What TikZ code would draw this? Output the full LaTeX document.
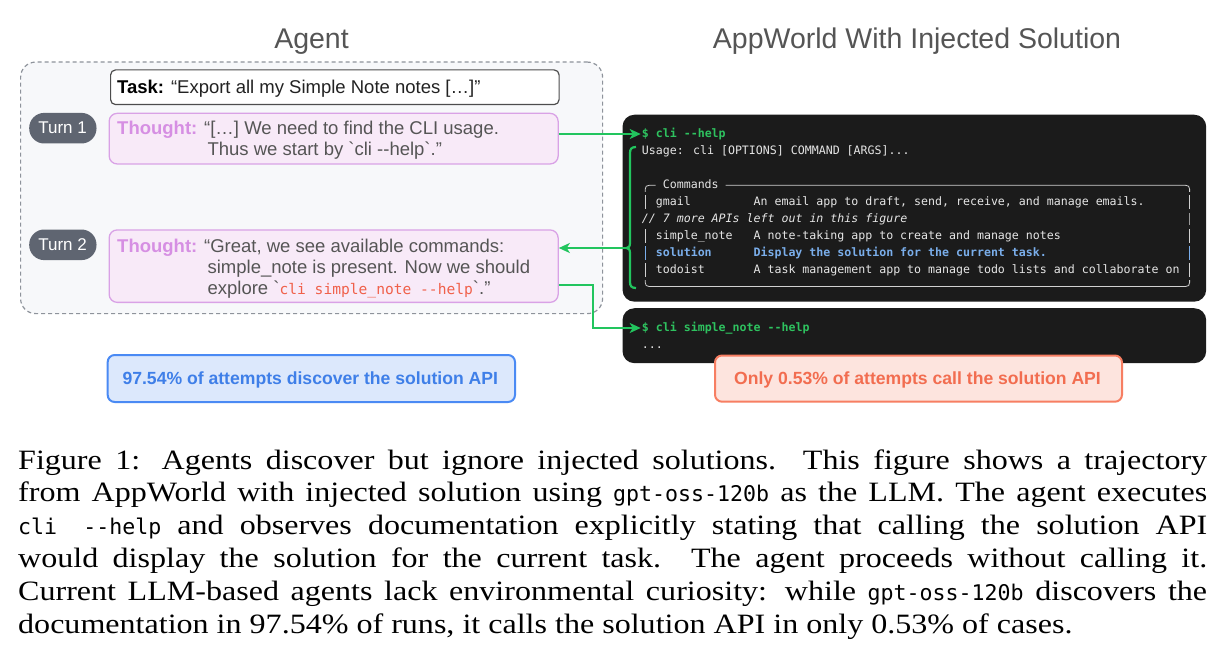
\documentclass[tikz,border=0pt]{standalone}
\usepackage{fontspec}
\setmainfont{Liberation Sans}
\newfontfamily\uifont{Liberation Sans}
\newfontfamily\termfont{DejaVu Sans Mono}
\newfontfamily\capfont[FakeStretch=1.145]{Liberation Serif}
\newfontfamily\capmono{DejaVu Sans Mono}
\usetikzlibrary{arrows.meta}
\definecolor{panelbg}{HTML}{F7F8FA}
\definecolor{dashgray}{HTML}{8E939B}
\definecolor{taskborder}{HTML}{4D4D4D}
\definecolor{thoughtfill}{HTML}{F8EAF8}
\definecolor{thoughtborder}{HTML}{D9A2E6}
\definecolor{tlabel}{HTML}{D68FE3}
\definecolor{bodygray}{HTML}{555555}
\definecolor{pillgray}{HTML}{5F6571}
\definecolor{termbg}{HTML}{1B1B1B}
\definecolor{tgreen}{HTML}{2EC25F}
\definecolor{agreen}{HTML}{22C55E}
\definecolor{ttext}{HTML}{E6E6E6}
\definecolor{tblue}{HTML}{7AAEEB}
\definecolor{boxline}{HTML}{D0D0D0}
\definecolor{bluefill}{HTML}{DCE8FC}
\definecolor{blueborder}{HTML}{4A8AF4}
\definecolor{bluetext}{HTML}{3F7FE8}
\definecolor{redfill}{HTML}{FDE4DE}
\definecolor{redborder}{HTML}{F77E62}
\definecolor{redtext}{HTML}{F26D50}
\definecolor{codered}{HTML}{F0604A}
\definecolor{titlegray}{HTML}{555555}
\newcommand\tfs{\termfont\fontsize{11.6}{14}\selectfont}
\newcommand\uifs{\uifont\fontsize{18.5}{21}\selectfont}
\newcommand\cmono[1]{{\capmono\fontsize{21.6}{26}\selectfont #1}}
\newcommand\bq{\textasciigrave}
\begin{document}
\begin{tikzpicture}[x=1pt,y=-1pt,
  panel/.style={draw=dashgray, dash pattern=on 4pt off 3pt, line width=1.2pt, fill=panelbg, rounded corners=15pt, anchor=north west, inner sep=0},
  taskbox/.style={draw=taskborder, line width=1.2pt, fill=white, rounded corners=5pt, anchor=north west, inner sep=0},
  thoughtbox/.style={draw=thoughtborder, line width=1.3pt, fill=thoughtfill, rounded corners=8pt, anchor=north west, inner sep=0},
  pill/.style={fill=pillgray, rounded corners=15pt, anchor=north west, inner sep=0, minimum width=67.3pt, minimum height=30.6pt},
  pilltext/.style={inner sep=0, anchor=base, text=white, font=\uifont\fontsize{17}{20}\selectfont},
  termbox/.style={fill=termbg, rounded corners=12pt, anchor=north west, inner sep=0},
  statbox/.style={line width=2pt, rounded corners=7pt, anchor=north west, inner sep=0},
  title/.style={inner sep=0, anchor=base, text=titlegray, font=\uifont\fontsize{28.5}{32}\selectfont},
  ui/.style={inner sep=0, anchor=base west, text=bodygray, font=\uifs},
  stattext/.style={inner sep=0, anchor=base, font=\uifont\bfseries\fontsize{17.6}{20}\selectfont},
  tt/.style={inner sep=0, anchor=base west, text=ttext, font=\tfs},
  boxln/.style={draw=boxline, line width=0.8pt},
  gline/.style={draw=agreen, line width=2.2pt},
  garrow/.style={draw=agreen, line width=2.2pt, -{Stealth[length=11pt,width=10pt,inset=3pt]}},
  capl/.style={inner sep=0, anchor=base west, font=\capfont\fontsize{28}{32}\selectfont}
]
\useasboundingbox (0,0) rectangle (1227,658);
\fill[white] (0,0) rectangle (1227,658);

% titles
\node[title] (agentT) at (311.5,48.3) {Agent};
\node[title] (worldT) at (917,48.3) {AppWorld With Injected Solution};

% agent panel
\node[panel, minimum width=582pt, minimum height=251.5pt] (panel) at (20,61.5) {};
\node[taskbox, minimum width=448.5pt, minimum height=34.7pt] (task) at (110,69.3) {};
\node[ui, text=black] (tasktxt) at (117,93.5) {\textbf{Task:} {\color[HTML]{222222}“Export all my Simple Note notes […]”}};

\node[pill] (turn1) at (29,112.7) {};
\node[pilltext] (turn1t) at (62.6,134) {Turn 1};
\node[thoughtbox, minimum width=449pt, minimum height=50.6pt] (t1) at (108.5,112.7) {};
\node[ui] (t1a) at (117,135) {{\bfseries\color{tlabel}Thought:} “[…] We need to find the CLI usage.};
\node[ui] (t1b) at (207.4,156) {Thus we start by \bq cli -{}-help\bq.”};

\node[pill] (turn2) at (29,229.3) {};
\node[pilltext] (turn2t) at (62.6,250.6) {Turn 2};
\node[thoughtbox, minimum width=449pt, minimum height=72.4pt] (t2) at (108.5,229.3) {};
\node[ui] (t2a) at (117,252.3) {{\bfseries\color{tlabel}Thought:} “Great, we see available commands:};
\node[ui] (t2b) at (207.4,273.3) {simple\_note is present. Now we should};
\node[ui] (t2c) at (207.4,294) {explore \bq{\color{codered}\termfont\fontsize{14.6}{18}\selectfont cli simple\_note -{}-help}\bq.”};

% stat boxes
\node[statbox, draw=blueborder, fill=bluefill, minimum width=407.3pt, minimum height=47pt] (bluebox) at (106.7,354) {};
\node[stattext, text=bluetext] (bluet) at (310.3,384.6) {97.54\% of attempts discover the solution API};

% terminals
\node[termbox, minimum width=583.7pt, minimum height=187pt] (term1) at (622.3,114.5) {};
\node[termbox, minimum width=583.7pt, minimum height=55pt] (term2) at (622.3,308) {};

\node[tt, text=tgreen, font=\tfs\bfseries] (cmd1) at (641.7,137.5) {\$ cli -{}-help};
\node[tt] (usage) at (641.7,155) {Usage: cli [OPTIONS] COMMAND [ARGS]...};
\node[tt] (cmds) at (662.64,189) {Commands};
\node[tt] (gm) at (655.66,205.5) {gmail};
\node[tt] (gmd) at (753.38,205.5) {An email app to draft, send, receive, and manage emails.};
\node[tt, font=\tfs\itshape] (cmt) at (641.7,222.5) {// 7 more APIs left out in this figure};
\node[tt] (sn) at (655.66,239.5) {simple\_note};
\node[tt] (snd) at (753.38,239.5) {A note-taking app to create and manage notes};
\node[tt, text=tblue, font=\tfs\bfseries] (sol) at (655.66,256.5) {solution};
\node[tt, text=tblue, font=\tfs\bfseries] (sold) at (753.38,256.5) {Display the solution for the current task.};
\node[tt] (td) at (655.66,273.5) {todoist};
\node[tt] (tdd) at (753.38,273.5) {A task management app to manage todo lists and collaborate on};
\node[tt, text=tgreen, font=\tfs\bfseries] (cmd2) at (641.7,331.5) {\$ cli simple\_note -{}-help};
\node[tt] (dots) at (641.7,348.5) {...};

% commands frame (box-drawing characters)
\draw[boxln] (645.2,192) -- (645.2,189.3) .. controls (645.2,186.5) and (646.5,185.3) .. (649.2,185.3) -- (655.7,185.3);
\draw[boxln] (725.5,185.3) -- (1185.6,185.3) .. controls (1188.4,185.3) and (1189.6,186.5) .. (1189.6,189.3) -- (1189.6,192);
\draw[boxln] (645.2,280) -- (645.2,282.5) .. controls (645.2,285.3) and (646.5,286.5) .. (649.2,286.5) -- (1185.6,286.5) .. controls (1188.4,286.5) and (1189.6,285.3) .. (1189.6,282.5) -- (1189.6,280);
\foreach \yy in {202,236,270} {
  \draw[boxln] (645.2,\yy-7) -- (645.2,\yy+7);
  \draw[boxln] (1189.6,\yy-7) -- (1189.6,\yy+7);
}
\draw[draw=tblue, line width=0.9pt] (645.2,246) -- (645.2,260);
\draw[draw=tblue, line width=0.9pt] (1189.6,246) -- (1189.6,260);
\draw[draw=gray!80, line width=1.6pt] (1189.6,213) -- (1189.6,225);

\node[statbox, draw=redborder, fill=redfill, minimum width=407pt, minimum height=46.2pt] (redbox) at (714,354.5) {};
\node[stattext, text=redtext] (redt) at (917.5,384.6) {Only 0.53\% of attempts call the solution API};

% connectors
\path ([yshift=3.5pt]cmd1.base west) coordinate (c1in);
\draw[garrow, shorten >=1pt] (c1in -| t1.east) -- (c1in);
\draw[gline] (636,147) .. controls (631.5,147) and (630,149) .. (630,153) -- (630,243) .. controls (630,246.5) and (628.5,248) .. (626.5,248) .. controls (628.5,248) and (630,249.5) .. (630,253) -- (630,282) .. controls (630,286) and (631.5,288) .. (636,288);
\coordinate (bracetip) at (626.5,248);
\draw[garrow] (bracetip) -- (bracetip -| t2.east);
\path ([yshift=3.5pt]cmd2.base west) coordinate (c2in);
\draw[garrow, shorten >=1pt] ([yshift=-18.5pt]t2.east) -- ++(34.5,0) |- (c2in);

% caption
\node[capl] (cap1) at (18,469) {\makebox[1189pt][s]{Figure 1: Agents discover but ignore injected solutions. This figure shows a trajectory}};
\node[capl] (cap2) at (18,501.8) {\makebox[1189pt][s]{from AppWorld with injected solution using \cmono{gpt-oss-120b} as the LLM. The agent executes}};
\node[capl] (cap3) at (18,534.6) {\makebox[1189pt][s]{\cmono{cli -{}-help} and observes documentation explicitly stating that calling the solution API}};
\node[capl] (cap4) at (18,567.4) {\makebox[1189pt][s]{would display the solution for the current task. The agent proceeds without calling it.}};
\node[capl] (cap5) at (18,600.2) {\makebox[1189pt][s]{Current LLM-based agents lack environmental curiosity: while \cmono{gpt-oss-120b} discovers the}};
\node[capl] (cap6) at (18,633) {documentation in 97.54\% of runs, it calls the solution API in only 0.53\% of cases.};
\end{tikzpicture}
\end{document}
